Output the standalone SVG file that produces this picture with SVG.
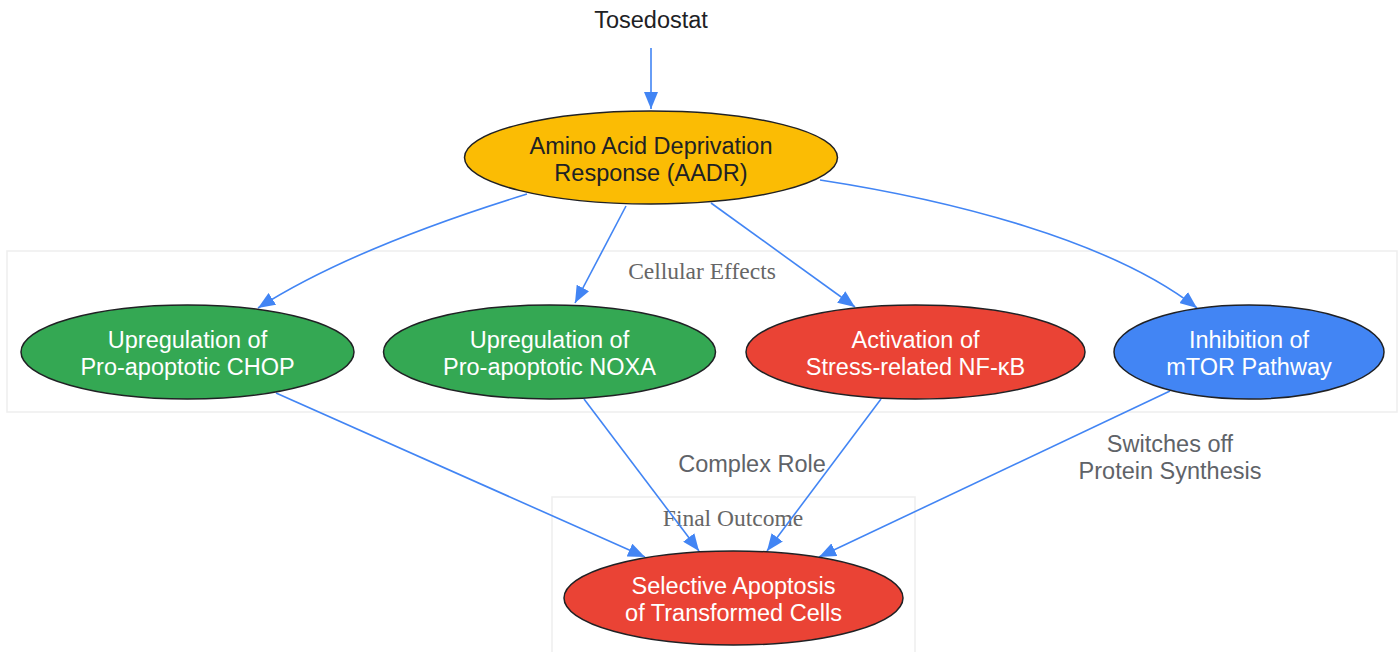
<svg xmlns="http://www.w3.org/2000/svg" width="1400" height="652" viewBox="0 0 1400 652">
<style>
text{font-family:"Liberation Sans",Arial,sans-serif;font-size:23.5px;text-anchor:middle}
.node ellipse{stroke:#202124;stroke-width:1.5}
.w{fill:#ffffff}
.d{fill:#202124}
.lbl{fill:#5f6368}
.cl{fill:none;stroke:#eeeeee;stroke-width:1.5}
.ct{font-family:"Liberation Serif","Times New Roman",serif;font-size:23.5px;fill:#666666}
.e{fill:none;stroke:#4285f4;stroke-width:1.6;marker-end:url(#ah)}
</style>
<defs>
<marker id="ah" markerUnits="userSpaceOnUse" markerWidth="18" markerHeight="14" refX="17" refY="7" orient="auto">
<path d="M0,0 L17,7 L0,14 z" fill="#4285f4"/>
</marker>
</defs>
<rect width="1400" height="652" fill="#ffffff"/>
<g id="cluster-cellular">
<rect class="cl" x="7" y="251" width="1390" height="161"/>
<text class="ct" x="702" y="279">Cellular Effects</text>
</g>
<g id="cluster-final">
<rect class="cl" x="552" y="497" width="363" height="170"/>
<text class="ct" x="733" y="526">Final Outcome</text>
</g>
<g id="connectors">
<path class="e" d="M651,48 L651,109"/>
<path class="e" d="M527,194 C430,224 330,262 258,308"/>
<path class="e" d="M626,206 L575,303"/>
<path class="e" d="M711,203 L855,307"/>
<path class="e" d="M820,180 C950,200 1110,240 1197,308"/>
<path class="e" d="M276,393 L645,557"/>
<path class="e" d="M584,399 L699,551"/>
<path class="e" d="M881,399 L767,551"/>
<path class="e" d="M1170,391 L819,557"/>
</g>
<g id="edge-labels">
<text class="lbl" x="752" y="472">Complex Role</text>
<text class="lbl" x="1170" y="452">Switches off</text>
<text class="lbl" x="1170" y="479">Protein Synthesis</text>
</g>
<g id="tosedostat" class="node">
<text class="d" x="651" y="28">Tosedostat</text>
</g>
<g id="aadr" class="node">
<ellipse cx="651" cy="157.5" rx="186.5" ry="46.5" fill="#fbbc04"/>
<text class="d" x="651" y="154">Amino Acid Deprivation</text>
<text class="d" x="651" y="181">Response (AADR)</text>
</g>
<g id="chop" class="node">
<ellipse cx="187.5" cy="352" rx="166.5" ry="47" fill="#34a853"/>
<text class="w" x="187.5" y="348">Upregulation of</text>
<text class="w" x="187.5" y="375">Pro-apoptotic CHOP</text>
</g>
<g id="noxa" class="node">
<ellipse cx="549.5" cy="352" rx="166" ry="47" fill="#34a853"/>
<text class="w" x="549.5" y="348">Upregulation of</text>
<text class="w" x="549.5" y="375">Pro-apoptotic NOXA</text>
</g>
<g id="nfkb" class="node">
<ellipse cx="915.5" cy="352" rx="169.5" ry="47" fill="#ea4335"/>
<text class="w" x="915.5" y="348">Activation of</text>
<text class="w" x="915.5" y="375">Stress-related NF-κB</text>
</g>
<g id="mtor" class="node">
<ellipse cx="1249" cy="352" rx="135" ry="47" fill="#4285f4"/>
<text class="w" x="1249" y="348">Inhibition of</text>
<text class="w" x="1249" y="375">mTOR Pathway</text>
</g>
<g id="apoptosis" class="node">
<ellipse cx="733.5" cy="598" rx="169.5" ry="47" fill="#ea4335"/>
<text class="w" x="733.5" y="594">Selective Apoptosis</text>
<text class="w" x="733.5" y="621">of Transformed Cells</text>
</g>
</svg>
